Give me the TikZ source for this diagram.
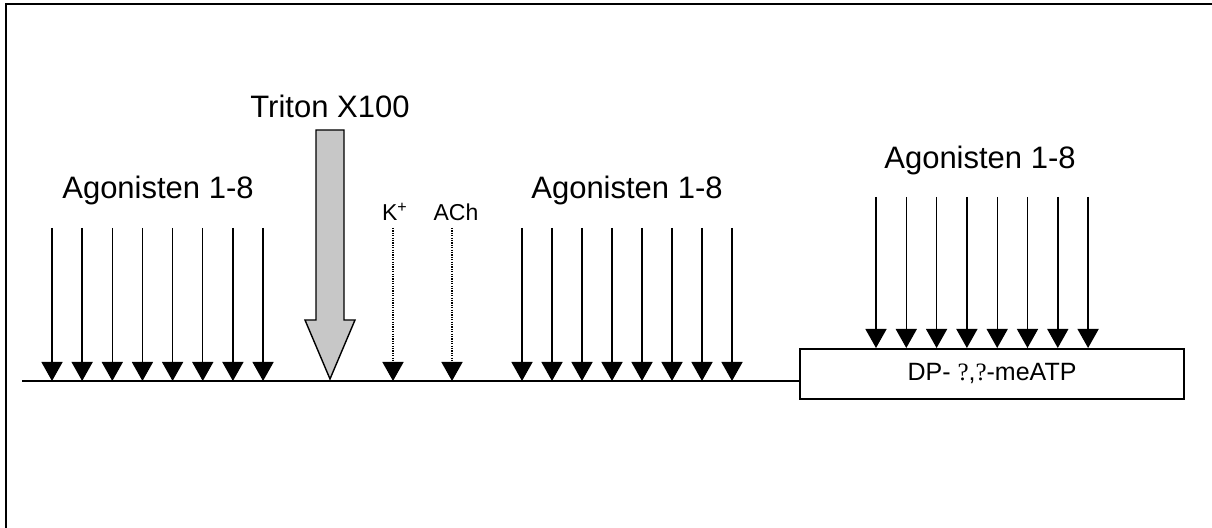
\documentclass[tikz,border=0pt]{standalone}
\usepackage{fontspec}
\setmainfont{Liberation Sans}
\newfontfamily\qmark{Liberation Serif}
\usetikzlibrary{arrows.meta}

\begin{document}
\begin{tikzpicture}[x=0.5pt,y=-0.5pt,>={Triangle[width=10.5pt,length=9.5pt]},line width=0.7pt]
\tikzstyle{lbl}=[inner sep=0pt,font=\fontsize{15.5}{17}\selectfont]
\tikzstyle{small}=[inner sep=0pt,font=\fontsize{11.5}{13}\selectfont]
\tikzstyle{dots}=[->,line width=0.8pt,dash pattern=on 0.6pt off 0.6pt]
\useasboundingbox (0,0) rectangle (1212,528);
\draw[line width=1pt] (6,528) -- (6,4) -- (1212,4);
% membrane with the DP box
\node[draw,line width=1pt,anchor=north west,minimum width=192pt,minimum height=25pt,inner sep=0pt,font=\fontsize{12.5}{14}\selectfont] (dp) at (799,348) {DP- {\qmark ?},{\qmark ?}-meATP};
\coordinate (m0) at (22,381);
\draw[line width=1pt] (m0) -- (m0 -| dp.west);
% first agonists
\node[lbl] (ag1) at (158,190) {Agonisten 1-8};
\foreach \i in {0,...,7} {
  \coordinate (a\i) at (52+30.15*\i,228);
  \draw[->] (a\i) -- (a\i |- m0);
}
% Triton
\node[lbl] (triton) at (330,106) {Triton X100};
\coordinate (tx) at (330,379);
\draw[fill=black!22] (316,130) -- (344,130) -- (344,320) -- (355,320) -- (tx) -- (305,320) -- (316,320) -- cycle;
% K+ and ACh
\node[small] (kp) at (395,212) {K\textsuperscript{+}};
\node[small] (ach) at (456,212) {ACh};
\coordinate (k0) at (393,228);
\coordinate (c0) at (452,228);
\draw[dots] (k0) -- (k0 |- m0);
\draw[dots] (c0) -- (c0 |- m0);
% second agonists
\node[lbl] (ag2) at (627,190) {Agonisten 1-8};
\foreach \i in {0,...,7} {
  \coordinate (b\i) at (522+30*\i,228);
  \draw[->] (b\i) -- (b\i |- m0);
}
% agonists onto DP
\node[lbl] (ag3) at (980,160) {Agonisten 1-8};
\foreach \i in {0,...,7} {
  \coordinate (c\i) at (876+30.3*\i,197);
  \draw[->] (c\i) -- (c\i |- dp.north);
}
\end{tikzpicture}
\end{document}
